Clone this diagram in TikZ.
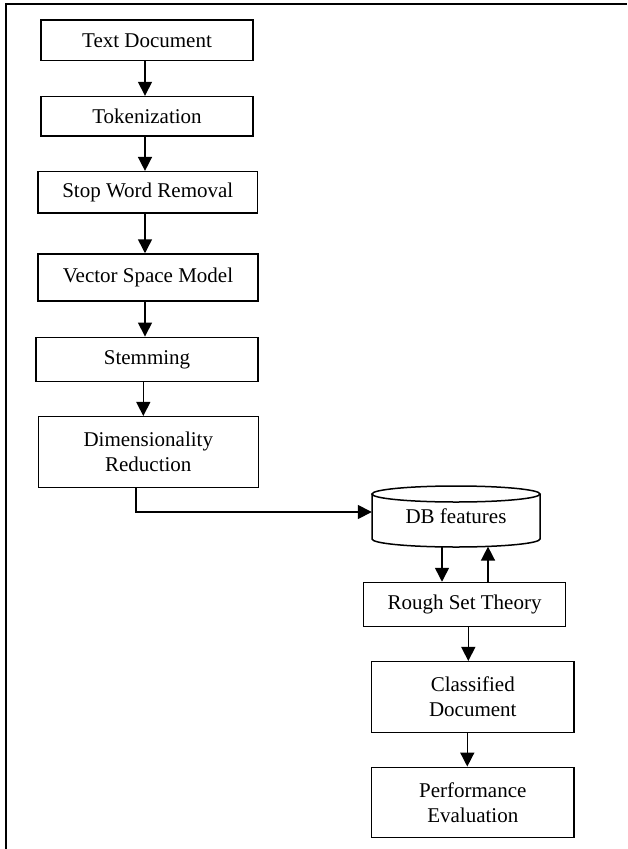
\documentclass[tikz,border=0pt]{standalone}
\usepackage{fontspec}
\setmainfont{Liberation Serif}
\usetikzlibrary{arrows.meta}
\begin{document}
\begin{tikzpicture}[x=1pt,y=-1pt,
  box/.style={draw, line width=1.5pt, inner sep=0pt, align=center,
    font=\fontsize{21pt}{25pt}\selectfont},
  arr/.style={line width=1.5pt, -{Triangle[length=14pt,width=14pt]}},
  frame/.style={line width=2.2pt}]
\useasboundingbox (0,0) rectangle (627,849);
\draw[frame] (6,849) -- (6,4) -- (627,4);

\node[box, minimum width=212pt, minimum height=40.5pt] (td) at (147,40.3) {Text Document};
\node[box, minimum width=212pt, minimum height=39.5pt] (tok) at (147,116.3) {Tokenization};
\node[box, minimum width=219.5pt, minimum height=41.3pt] (swr) at (147.8,192.3) {Stop Word Removal};
\node[box, minimum width=220pt, minimum height=47pt] (vsm) at (148,277.5) {Vector Space Model};
\node[box, minimum width=222pt, minimum height=44.4pt] (stem) at (147,359.5) {Stemming};
\node[box, minimum width=220pt, minimum height=71pt] (dr) at (148.3,452.2) {Dimensionality\\Reduction};

\node[inner sep=0pt, minimum width=168pt, minimum height=61pt,
  font=\fontsize{21pt}{25pt}\selectfont] (db) at (456,516.5) {\raisebox{-4pt}{DB features}};
\draw[line width=1.5pt] (372,494) -- (372,539) arc[start angle=180, end angle=360, x radius=84pt, y radius=8pt] -- (540,494);
\draw[line width=1.5pt] (456,494) ellipse [x radius=84pt, y radius=8pt];

\node[box, minimum width=202.4pt, minimum height=44pt] (rst) at (464.5,604.5) {Rough Set Theory};
\node[box, minimum width=202.3pt, minimum height=70.6pt] (cd) at (472.8,697) {Classified\\Document};
\node[box, minimum width=202.3pt, minimum height=70.2pt] (pe) at (472.8,802.4) {Performance\\Evaluation};

\draw[arr] ([xshift=-2pt]td.south) -- ([xshift=-2pt]td.south |- tok.north);
\draw[arr] ([xshift=-2pt]tok.south) -- ([xshift=-2pt]tok.south |- swr.north);
\draw[arr] ([xshift=-2.8pt]swr.south) -- ([xshift=-2.8pt]swr.south |- vsm.north);
\draw[arr] ([xshift=-3pt]vsm.south) -- ([xshift=-3pt]vsm.south |- stem.north);
\draw[arr] ([xshift=-3.7pt]stem.south) -- ([xshift=-3.7pt]stem.south |- dr.north);
\draw[arr] ([xshift=-12.3pt]dr.south) |- ([yshift=4.5pt]db.west);
\draw[arr] ([xshift=-14pt]db.south) -- ([xshift=-14pt]db.south |- rst.north);
\draw[arr] ([xshift=32pt]db.south |- rst.north) -- ([xshift=32pt,yshift=0.6pt]db.south);
\draw[arr] ([xshift=3.8pt]rst.south) -- ([xshift=3.8pt]rst.south |- cd.north);
\draw[arr] ([xshift=-5.5pt]cd.south) -- ([xshift=-5.5pt]cd.south |- pe.north);
\end{tikzpicture}
\end{document}
